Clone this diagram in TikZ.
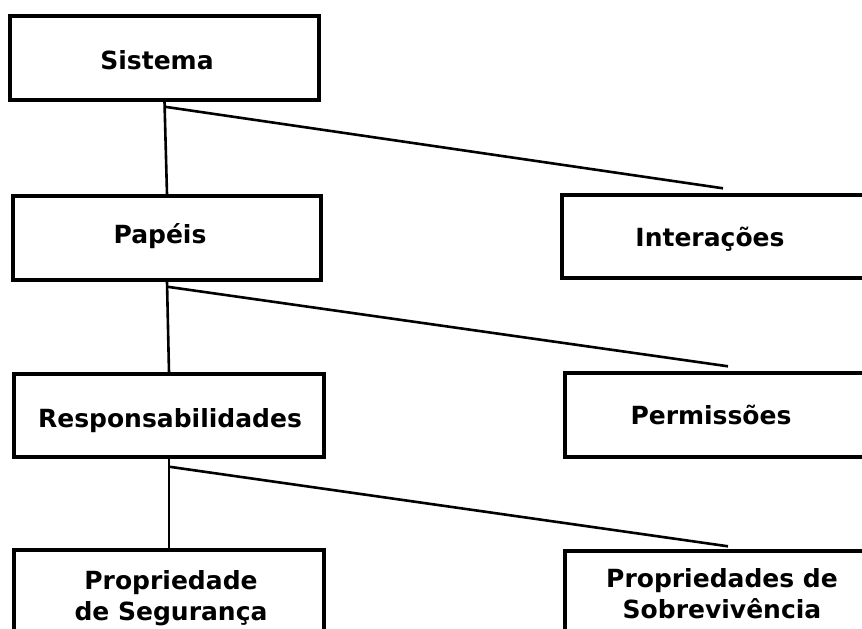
\documentclass[tikz,border=0pt]{standalone}
\usepackage{fontspec}
\setmainfont{DejaVu Sans}
\begin{document}
\begin{tikzpicture}[x=1pt,y=-1pt,
  box/.style={draw=black, line width=3.4pt, rectangle, inner sep=0pt,
              minimum width=#1, minimum height=84pt},
  lbl/.style={inner sep=0pt, font=\fontsize{25}{31}\selectfont\bfseries, align=center},
  link/.style={draw=black, line width=2.6pt}]
  \useasboundingbox (0,0) rectangle (862,629);
  \clip (0,0) rectangle (862,629);

  % boxes
  \node[box=309pt] (sist)  at (164.5,58) {};
  \node[box=308pt] (pap)   at (167,238) {};
  \node[box=322pt, minimum height=83pt] (inter) at (723,236.5) {};
  \node[box=310pt, minimum height=83pt] (resp)  at (169,415.5) {};
  \node[box=326pt] (perm)  at (728,415) {};
  \node[box=310pt] (seg)   at (169,592) {};
  \node[box=326pt] (sob)   at (728,593) {};

  % texts
  \node[lbl, anchor=base] (sistt)  at (157,69)  {Sistema};
  \node[lbl, anchor=base] (papt)   at (160,243) {Papéis};
  \node[lbl, anchor=base] (intert) at (710,246) {Interações};
  \node[lbl, anchor=base] (respt)  at (170,427) {Responsabilidades};
  \node[lbl, anchor=base] (permt)  at (711,424) {Permissões};
  \node[lbl] (segt) at (171,598) {Propriedade\\de Segurança};
  \node[lbl] (sobt) at (722,594) {Propriedades de\\Sobrevivência};

  % hierarchy links
  \draw[link] (sist.south) -- (pap.north);
  \draw[link] ([yshift=-5pt]sist.south) -- ([yshift=5pt]inter.north);
  \draw[link] (pap.south) -- (resp.north);
  \draw[link] ([yshift=-5pt]pap.south) -- ([yshift=5pt]perm.north);
  \draw[link] (resp.south) -- (seg.north);
  \draw[link] ([yshift=-8pt]resp.south) -- ([yshift=3pt]sob.north);
\end{tikzpicture}
\end{document}
